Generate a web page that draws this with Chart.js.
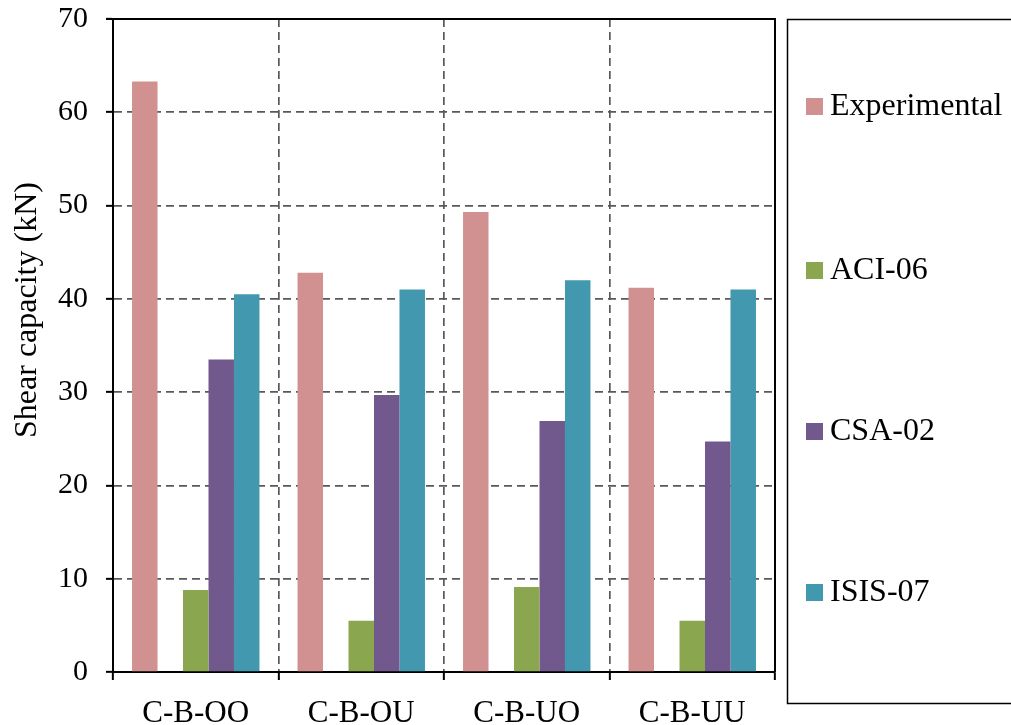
<!DOCTYPE html>
<html>
<head>
<meta charset="utf-8">
<script src="https://cdn.jsdelivr.net/npm/chart.js@4.4.1/dist/chart.umd.min.js"></script>
<style>
  html, body { margin: 0; padding: 0; background: #fff; }
  #wrap { width: 1011px; height: 725px; position: relative; }
</style>
</head>
<body>
<div id="wrap"><canvas id="c" width="1011" height="725"></canvas></div>
<script>
// Beam specimens and shear capacities (kN)
const specimens = ['C-B-OO', 'C-B-OU', 'C-B-UO', 'C-B-UU'];
const experimental = [63.3, 42.8, 49.3, 41.2];
const aci06 = [8.8, 5.5, 9.1, 5.5];
const csa02 = [33.5, 29.7, 26.9, 24.7];
const isis07 = [40.5, 41.0, 42.0, 41.0];
const yTicks = [0, 10, 20, 30, 40, 50, 60, 70];

const serif = '"Liberation Serif", "Times New Roman", serif';

// Frame on the top and right edges of the plot area
const frame = {
  id: 'frame',
  afterDraw(chart) {
    const { ctx, chartArea: a } = chart;
    ctx.save();
    ctx.strokeStyle = '#000';
    ctx.lineWidth = 2;
    ctx.beginPath();
    ctx.moveTo(a.left - 7, a.top);
    ctx.lineTo(a.right, a.top);
    ctx.lineTo(a.right, a.bottom);
    ctx.stroke();
    ctx.restore();
  }
};

// Vertical axis title
const yTitle = {
  id: 'yTitle',
  afterDraw(chart) {
    const { ctx } = chart;
    ctx.save();
    ctx.translate(28, 310);
    ctx.rotate(-Math.PI / 2);
    ctx.font = '32px ' + serif;
    ctx.fillStyle = '#000';
    ctx.textAlign = 'center';
    ctx.textBaseline = 'middle';
    ctx.fillText('Shear capacity (kN)', 0, 0);
    ctx.restore();
  }
};

// Boxed legend to the right of the plot
const boxLegend = {
  id: 'boxLegend',
  afterDraw(chart) {
    const { ctx } = chart;
    const items = chart.data.datasets.filter(d => d.label);
    const rows = [106, 270, 431, 592];
    ctx.save();
    ctx.strokeStyle = '#000';
    ctx.lineWidth = 1.5;
    ctx.strokeRect(787.5, 19.5, 240, 684);
    ctx.font = '32px ' + serif;
    ctx.textBaseline = 'middle';
    ctx.textAlign = 'left';
    items.forEach((d, i) => {
      ctx.fillStyle = d.backgroundColor;
      ctx.fillRect(806, rows[i] - 8, 17, 17);
      ctx.fillStyle = '#000';
      ctx.fillText(d.label, 830, rows[i] + 1);
    });
    ctx.restore();
  }
};

new Chart(document.getElementById('c'), {
  type: 'bar',
  data: {
    labels: specimens,
    datasets: [
      { label: 'Experimental', data: experimental, backgroundColor: '#d29191' },
      { label: '', data: specimens.map(() => null), backgroundColor: 'rgba(0,0,0,0)' },
      { label: 'ACI-06', data: aci06, backgroundColor: '#8aa64e' },
      { label: 'CSA-02', data: csa02, backgroundColor: '#72598d' },
      { label: 'ISIS-07', data: isis07, backgroundColor: '#4198af' }
    ]
  },
  options: {
    responsive: false,
    animation: false,
    devicePixelRatio: 1,
    layout: { padding: { top: 19, right: 236, left: 0, bottom: 0 } },
    datasets: { bar: { categoryPercentage: 0.77, barPercentage: 1.0 } },
    plugins: {
      legend: { display: false },
      tooltip: { enabled: false }
    },
    scales: {
      x: {
        offset: true,
        grid: {
          display: true,
          offset: true,
          color: '#595959',
          lineWidth: 1.7,
          drawTicks: true,
          tickLength: 8,
          tickColor: '#000',
          tickWidth: 2,
          tickBorderDash: []
        },
        border: { display: true, color: '#000', width: 2, dash: [8, 5] },
        ticks: {
          color: '#000',
          font: { family: serif, size: 31 },
          padding: 15,
          maxRotation: 0,
          autoSkip: false
        },
        afterFit(scale) {
          scale.height = 53;
          scale.paddingLeft = 0;
          scale.paddingRight = 0;
        }
      },
      y: {
        min: 0,
        max: 70,
        afterBuildTicks(scale) { scale.ticks = yTicks.map(v => ({ value: v })); },
        grid: {
          color: '#595959',
          lineWidth: 1.7,
          drawTicks: true,
          tickLength: 7,
          tickColor: '#000',
          tickWidth: 2,
          tickBorderDash: []
        },
        border: { display: true, color: '#000', width: 2, dash: [8, 5] },
        ticks: {
          color: '#000',
          font: { family: serif, size: 30 },
          padding: 18
        },
        afterFit(scale) {
          scale.width = 113;
          scale.paddingTop = 0;
          scale.paddingBottom = 0;
        }
      }
    }
  },
  plugins: [frame, yTitle, boxLegend]
});
</script>
</body>
</html>
